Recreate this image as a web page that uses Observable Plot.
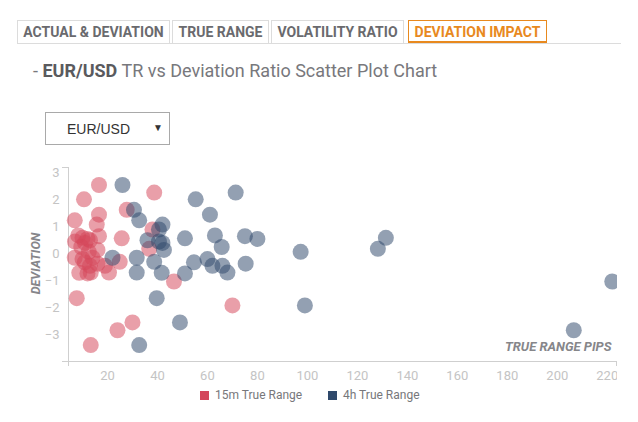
<!DOCTYPE html>
<html>
<head>
<meta charset="utf-8">
<script src="https://cdn.jsdelivr.net/npm/d3@7"></script>
<script src="https://cdn.jsdelivr.net/npm/@observablehq/plot@0.6"></script>
<style>
  html, body { margin: 0; padding: 0; background: #fff; }
  body { width: 638px; height: 422px; position: relative; overflow: hidden; font-family: Roboto, "Noto Sans", sans-serif; }
  .tab { position: absolute; top: 20px; height: 22px; border: 1px solid #dcdcdc; border-bottom: none; box-sizing: content-box;
         font: 700 14px Roboto, sans-serif; color: #6a6a6e; line-height: 23px; text-align: center; white-space: nowrap; }
  .tab.active { color: #e8891e; border-color: #e8891e; border-bottom: 3px solid #e8891e; height: 20px; line-height: 22px; }
  #tabline { position: absolute; left: 17px; top: 43px; width: 604px; height: 1px; background: #dcdcdc; }
  #title { position: absolute; left: 33px; top: 60px; font: 400 18px Roboto, sans-serif; color: #78787c; white-space: nowrap; }
  #title b { color: #5a5a5e; font-weight: 700; }
  #select { position: absolute; left: 45px; top: 112px; width: 125px; height: 33px; border: 1px solid #a9a9a9; box-sizing: border-box;
            font: 400 14px "Liberation Sans", Arial, sans-serif; color: #333; }
  #select .v { position: absolute; left: 21px; top: 8px; }
  #select .a { position: absolute; left: 107px; top: 9px; font-size: 10px; }
  #chart { position: absolute; left: 0; top: 155px; width: 617px; height: 240px; overflow: hidden; }
  #chart svg { max-width: none !important; width: 638px; }
  #legend { position: absolute; top: 387px; left: 0; width: 638px; font: 400 12px Roboto, sans-serif; color: #77777b; }
  #legend .sw { position: absolute; top: 4px; width: 9px; height: 9px; }
  #legend .lb { position: absolute; top: 1px; white-space: nowrap; }
</style>
</head>
<body>
<div class="tab" style="left:17px;width:151px;">ACTUAL &amp; DEVIATION</div>
<div class="tab" style="left:172px;width:95px;">TRUE RANGE</div>
<div class="tab" style="left:271px;width:131px;">VOLATILITY RATIO</div>
<div class="tab active" style="left:408px;width:137px;">DEVIATION IMPACT</div>
<div id="tabline"></div>
<div id="title">- <b>EUR/USD</b> TR vs Deviation Ratio Scatter Plot Chart</div>
<div id="select"><span class="v">EUR/USD</span><span class="a">&#9660;</span></div>
<div id="chart"></div>
<div id="legend">
  <div class="sw" style="left:200px;background:#d4475b;"></div><div class="lb" style="left:215px;">15m True Range</div>
  <div class="sw" style="left:328px;background:#2f496b;"></div><div class="lb" style="left:343px;">4h True Range</div>
</div>
<script>
// Deviation of each event, with its 15-minute and 4-hour true range (pips)
const deviation = [2.55, 2.27, 2.02, 1.63, 1.45, 1.24, 1.08, 0.9, 0.68, 0.65, 0.57, 0.55, 0.59, 0.5, 0.45, 0.4, 0.25, 0.18, 0.14, 0.07, -0.15, -0.15, -0.2, -0.3, -0.32, -0.37, -0.45, -0.45, -0.7, -0.71, -0.7, -0.73, -1.03, -1.65, -1.92, -2.55, -2.84, -3.39];
const tr15m = [16.6, 38.7, 10.6, 27.7, 16.6, 6.9, 15.7, 38, 8.3, 16.6, 25.7, 12, 10, 13, 7, 11, 9.5, 36.7, 16, 12.5, 6.9, 14, 10, 24.9, 10.9, 16, 19, 13, 13.3, 8.7, 20.6, 12, 46.6, 7.7, 70, 30, 24, 13.3];
const tr4h = [26, 71.3, 55.3, 30.6, 61, 32.7, 42, 40.6, 63, 75, 51, 80, 131.4, 36, 40.6, 42, 65.7, 128.2, 42.6, 97.3, 22, 31.7, 60, 38.7, 54.6, 75.3, 62, 66, 31.7, 41.7, 68, 51, 222, 39.7, 99, 49, 206.6, 32.7];
const seriesNames = ["15m True Range", "4h True Range"];
const seriesColors = ["#d4475b", "#2f496b"];
const xTicks = [20, 40, 60, 80, 100, 120, 140, 160, 180, 200, 220];
const yTicks = [-3, -2, -1, 0, 1, 2, 3];
const xDomain = [4.4, 223.7];
const yDomain = [-4, 3.2];

const points = [];
deviation.forEach((d, i) => points.push({series: seriesNames[0], tr: tr15m[i], dev: d}));
deviation.forEach((d, i) => points.push({series: seriesNames[1], tr: tr4h[i], dev: d}));

const axisColor = "#cfcfcf";
const chart = Plot.plot({
  width: 638,
  height: 232,
  marginLeft: 68,
  marginRight: 22,
  marginTop: 12,
  marginBottom: 26,
  style: {fontFamily: "Roboto, sans-serif", fontSize: "13px", background: "transparent", overflow: "visible", maxWidth: "none"},
  x: {domain: xDomain},
  y: {domain: yDomain},
  color: {domain: seriesNames, range: seriesColors},
  marks: [
    Plot.axisX({ticks: xTicks, tickSize: 0, tickPadding: 9, fontSize: 13, color: "#c4c4c4", label: null}),
    Plot.axisY({ticks: yTicks, tickSize: 0, tickPadding: 9, fontSize: 13, color: "#c4c4c4", label: null}),
    Plot.axisX({ticks: xDomain, tickSize: 5, tickFormat: () => "", stroke: axisColor, label: null}),
    Plot.axisY({ticks: yDomain, tickSize: 6, tickFormat: () => "", stroke: axisColor, label: null}),
    Plot.ruleY([yDomain[0]], {stroke: axisColor, strokeWidth: 1}),
    Plot.ruleX([xDomain[0]], {stroke: axisColor, strokeWidth: 1}),
    Plot.dot(points, {x: "tr", y: "dev", fill: "series", r: 8, fillOpacity: 0.52, stroke: "none"}),
    Plot.text(["TRUE RANGE PIPS"], {frameAnchor: "bottom-right", textAnchor: "end", dx: -5, dy: -11,
      fontWeight: "bold", fontStyle: "italic", fontSize: 13, fill: "#86868a"}),
    Plot.text(["DEVIATION"], {frameAnchor: "left", textAnchor: "middle", rotate: -90, dx: -33, dy: -1,
      fontWeight: "bold", fontStyle: "italic", fontSize: 12.5, fill: "#86868a"})
  ]
});
document.getElementById("chart").appendChild(chart);
</script>
</body>
</html>
